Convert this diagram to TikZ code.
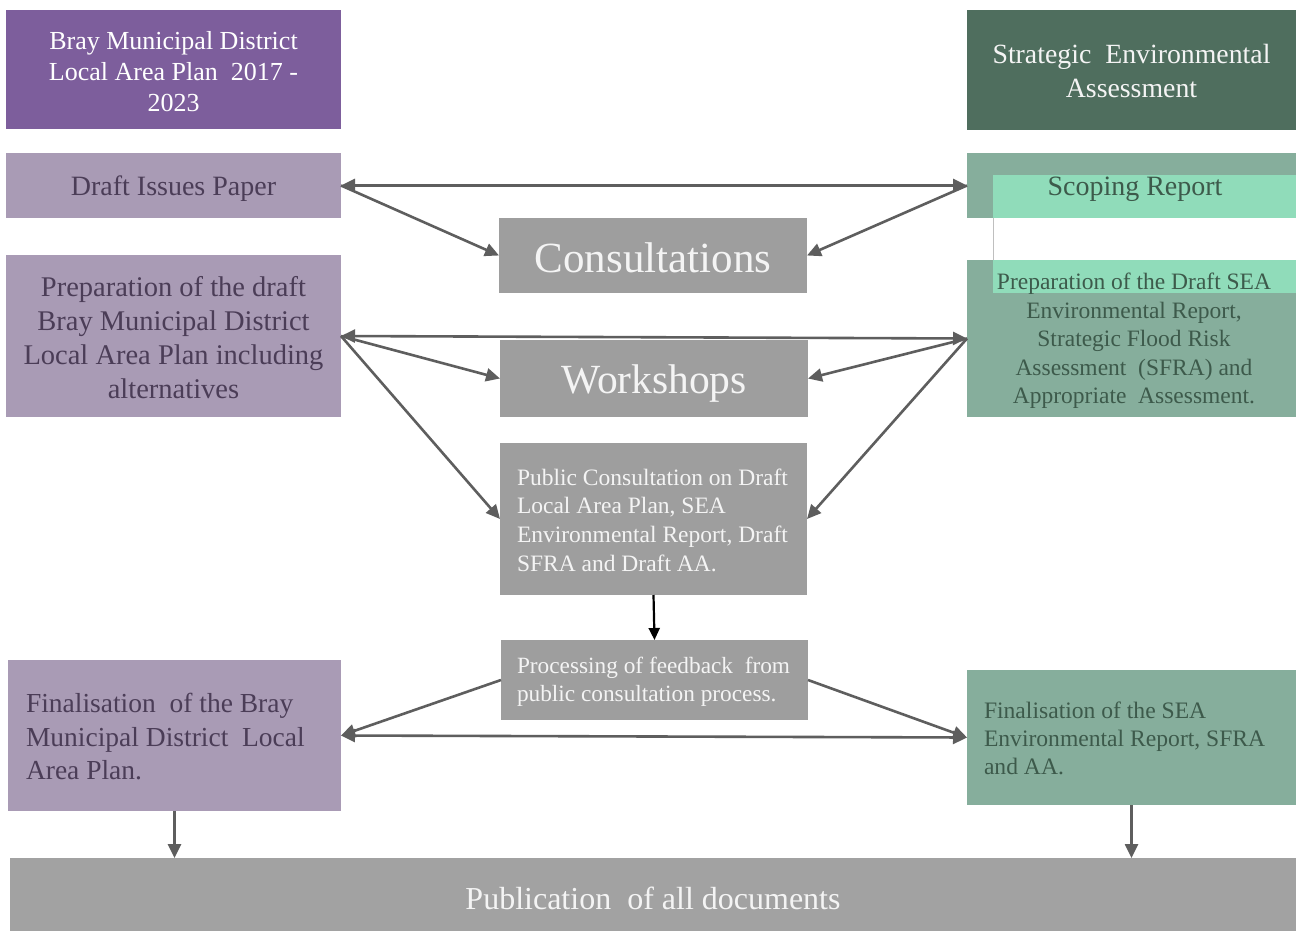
\documentclass[tikz,border=0pt]{standalone}
\usepackage{fontspec}
\setmainfont{Liberation Serif}
\usetikzlibrary{arrows.meta}
\definecolor{purpleDark}{HTML}{7D5E9C}
\definecolor{purpleLight}{HTML}{A99BB5}
\definecolor{purpleText}{HTML}{4B3D57}
\definecolor{greenDark}{HTML}{4F6E5E}
\definecolor{greenMid}{HTML}{86AE9C}
\definecolor{greenText}{HTML}{3D5A4B}
\definecolor{mint}{HTML}{90DCBA}
\definecolor{grayBox}{HTML}{9E9E9E}
\definecolor{grayPub}{HTML}{A2A2A2}
\definecolor{arrowGray}{HTML}{5E5E5E}
\definecolor{lightText}{HTML}{F4F4F4}
\newcommand\myfs[2]{\fontsize{#1}{#2}\selectfont}
\tikzset{
  box/.style={rectangle, inner sep=0pt, outer sep=0pt},
  txt/.style={inner sep=0pt, outer sep=0pt, align=center},
  conn/.style={draw=arrowGray, line width=2.6pt, -{Triangle[length=14pt,width=13pt]}},
  biconn/.style={draw=arrowGray, line width=2.6pt, {Triangle[length=14pt,width=13pt]}-{Triangle[length=14pt,width=13pt]}},
  blackconn/.style={draw=black, line width=2.2pt, -{Triangle[length=12pt,width=11pt]}}
}
\begin{document}
\begin{tikzpicture}[x=1pt,y=-1pt]
\useasboundingbox (0,0) rectangle (1296,931);
\fill[white] (0,0) rectangle (1296,931);

% left column
\node[box, fill=purpleDark, minimum width=335, minimum height=119] (lap) at (173.5,69.5) {};
\node[txt, text=white, font=\myfs{26}{31}] (lapt) at ([yshift=-2pt]lap.center)
  {Bray Municipal District\\Local Area Plan\ \ 2017 -\\2023};
\node[box, fill=purpleLight, minimum width=335, minimum height=65] (issues) at (173.5,185.5) {};
\node[txt, text=purpleText, font=\myfs{28}{34}] (issuest) at ([yshift=-3pt]issues.center)
  {Draft Issues Paper};
\node[box, fill=purpleLight, minimum width=335, minimum height=162] (prepl) at (173.5,336) {};
\node[txt, text=purpleText, font=\myfs{28.5}{34}] (preplt) at ([yshift=-2pt]prepl.center)
  {Preparation of the draft\\Bray Municipal District\\Local Area Plan including\\alternatives};
\node[box, fill=purpleLight, minimum width=333, minimum height=151] (finl) at (174.5,735.5) {};
\node[txt, anchor=west, align=left, text=purpleText, font=\myfs{27.5}{33.5}] (finlt) at (26,737)
  {Finalisation\ \ of the Bray\\Municipal District\ \ Local\\Area Plan.};

% right column
\node[box, fill=greenDark, minimum width=329, minimum height=120] (sea) at (1131.5,70) {};
\node[txt, text=lightText, font=\myfs{27.8}{34}] (seat) at ([yshift=-1pt]sea.center)
  {Strategic\ \ Environmental\\Assessment};
\node[box, fill=greenMid, minimum width=329, minimum height=65] (scoping) at (1131.5,185.5) {};
\fill[mint] (993,175) rectangle (1296,218);
\draw[gray!50, line width=0.8pt] (993,218) -- (993,260);
\node[box, fill=greenMid, minimum width=329, minimum height=157] (preps) at (1131.5,338.5) {};
\fill[mint] (993,260) rectangle (1296,293);
\node[txt, text=greenText, font=\myfs{28}{32}] (scopingt) at (1135,189) {Scoping Report};
\node[txt, text=greenText, font=\myfs{23.5}{28.5}] (prepst) at (1134,341)
  {Preparation of the Draft SEA\\Environmental Report,\\Strategic Flood Risk\\Assessment\ \ (SFRA) and\\Appropriate\ \ Assessment.};
\node[box, fill=greenMid, minimum width=329, minimum height=135] (fins) at (1131.5,737.5) {};
\node[txt, anchor=west, align=left, text=greenText, font=\myfs{23.6}{28}] (finst) at (984,738)
  {Finalisation of the SEA\\Environmental Report, SFRA\\and AA.};

% centre column
\node[box, fill=grayBox, minimum width=308, minimum height=75] (cons) at (653,255.5) {};
\node[txt, text=lightText, font=\myfs{43}{48}] (const) at ([yshift=-2pt]cons.center) {Consultations};
\node[box, fill=grayBox, minimum width=308, minimum height=77] (work) at (654,378.5) {};
\node[txt, text=lightText, font=\myfs{41.5}{48}] (workt) at ([yshift=-5pt]work.center) {Workshops};
\node[box, fill=grayBox, minimum width=307, minimum height=152] (pub) at (653.5,519) {};
\node[txt, anchor=west, align=left, text=lightText, font=\myfs{23.5}{28.7}] (pubt) at (517,520)
  {Public Consultation on Draft\\Local Area Plan, SEA\\Environmental Report, Draft\\SFRA and Draft AA.};
\node[box, fill=grayBox, minimum width=307, minimum height=80] (proc) at (654.5,680) {};
\node[txt, anchor=west, align=left, text=lightText, font=\myfs{23.3}{28}] (proct) at (517,682)
  {Processing of feedback\ \ from\\public consultation process.};

% bottom
\node[box, fill=grayPub, minimum width=1286, minimum height=73] (publ) at (653,894.5) {};
\node[txt, text=lightText, font=\myfs{32}{36}] (publt) at ([yshift=-4pt]publ.center)
  {Publication\ \ of all documents};

% connectors
\draw[biconn] (issues.east) -- (scoping.west);
\draw[conn] (issues.east) -- (cons.west);
\draw[conn] (scoping.west) -- (cons.east);
\draw[biconn] (prepl.east) -- (preps.west);
\draw[conn] (prepl.east) -- (work.west);
\draw[conn] (preps.west) -- (work.east);
\draw[conn] (prepl.east) -- (pub.west);
\draw[conn] (preps.west) -- (pub.east);
\draw[blackconn] (pub.south) -- (proc.north);
\draw[conn] (proc.west) -- (finl.east);
\draw[conn] (proc.east) -- (fins.west);
\draw[biconn] (finl.east) -- (fins.west);
\draw[conn] (finl.south) -- (finl.south |- publ.north);
\draw[conn] (fins.south) -- (fins.south |- publ.north);
\end{tikzpicture}
\end{document}
